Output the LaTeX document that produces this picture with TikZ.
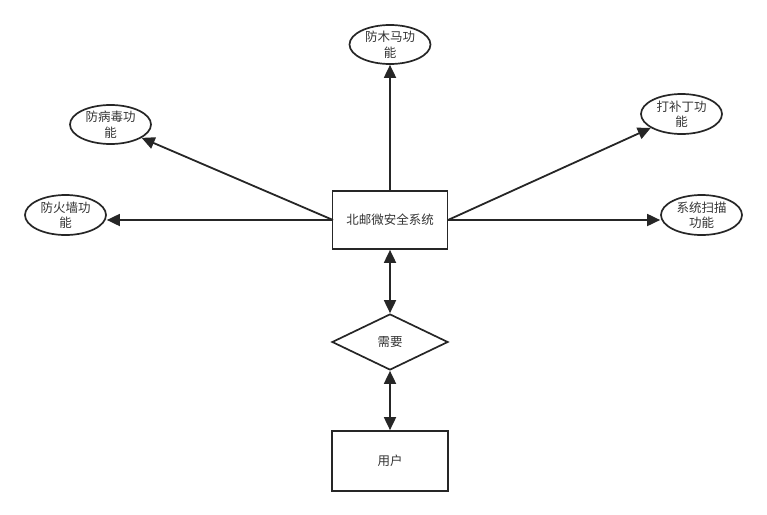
\documentclass[tikz,border=0pt]{standalone}
\usepackage{fontspec}
\setmainfont{Noto Sans CJK SC}
\usetikzlibrary{shapes.geometric,arrows.meta}
\begin{document}
\begin{tikzpicture}[x=1pt,y=-1pt,
  every node/.style={font=\fontsize{12.5}{15.5}\selectfont, text=black!80},
  boxnode/.style={draw=black!85, line width=1.7pt, rectangle, minimum width=115pt, minimum height=58pt, inner sep=0pt},
  ovalnode/.style={draw=black!85, line width=1.7pt, ellipse, minimum width=81pt, minimum height=39pt, inner sep=0pt, align=center},
  dianode/.style={draw=black!85, line width=1.7pt, diamond, minimum width=116pt, minimum height=56pt, inner sep=0pt, aspect=2.07},
  conn/.style={draw=black!85, line width=1.8pt, -{Triangle[length=13pt,width=12pt]}},
  bconn/.style={draw=black!85, line width=1.8pt, {Triangle[length=13pt,width=12pt]}-{Triangle[length=13pt,width=12pt]}}
]
\useasboundingbox (0,0) rectangle (767,514);
\node[boxnode] (main) at (390,220) {北邮微安全系统};
\node[dianode] (need) at (390,342) {需要};
\node[boxnode, minimum width=116pt, minimum height=60pt] (user) at (390,461) {用户};
\node[ovalnode] (trojan) at (390,44.5) {防木马功\\能};
\node[ovalnode, minimum height=40pt] (fire) at (65.5,215) {防火墙功\\能};
\node[ovalnode] (virus) at (110.5,124.5) {防病毒功\\能};
\node[ovalnode, minimum height=40pt] (patch) at (681.5,114) {打补丁功\\能};
\node[ovalnode, minimum height=40pt] (scan) at (701.5,215) {系统扫描\\功能};
\coordinate (ml) at (333,220);
\coordinate (mr) at (448,220);
\draw[conn] (main.north) -- (trojan.south);
\draw[conn] (ml) -- (fire.east |- ml);
\draw[conn] (ml) -- (virus);
\draw[conn] (mr) -- (patch);
\draw[conn] (mr) -- (scan.west |- mr);
\draw[bconn] (main.south) -- (need.north);
\draw[bconn] (need.south) -- (user.north);
\end{tikzpicture}
\end{document}
